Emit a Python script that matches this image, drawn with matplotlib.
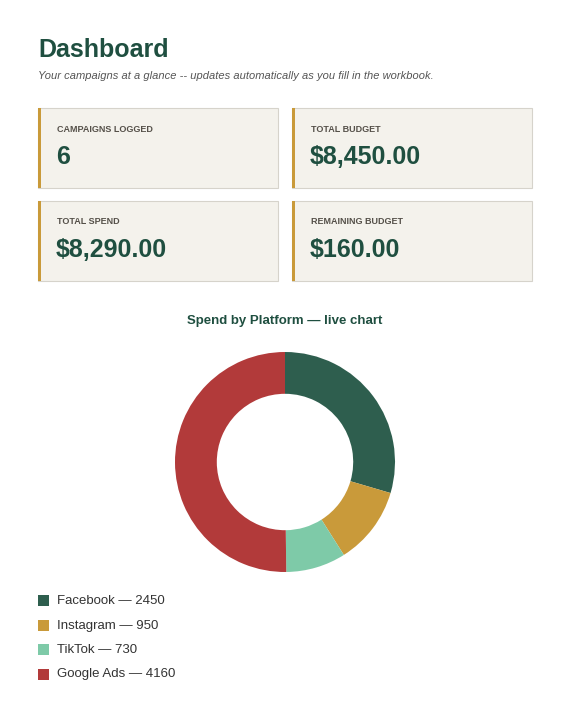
import matplotlib.pyplot as plt
from matplotlib.patches import Rectangle

plt.rcParams['font.family'] = ['Liberation Sans', 'DejaVu Sans']

# --- data ---
card_labels = ["CAMPAIGNS LOGGED", "TOTAL BUDGET", "TOTAL SPEND", "REMAINING BUDGET"]
card_values = ["6", "$8,450.00", "$8,290.00", "$160.00"]
platforms = ["Facebook", "Instagram", "TikTok", "Google Ads"]
spend = [2450, 950, 730, 4160]
colors = ["#2e5e4e", "#c99a3a", "#7ecaa8", "#b23a3a"]

GREEN = "#1f4f40"
W, H = 570, 728

fig = plt.figure(figsize=(W / 100, H / 100), dpi=100)
fig.patch.set_facecolor("white")
ax = fig.add_axes([0, 0, 1, 1])
ax.set_xlim(0, W)
ax.set_ylim(H, 0)
ax.axis("off")

ax.text(38, 50, "Dashboard", fontsize=18, fontweight="bold", color=GREEN, va="center")
ax.text(38, 76, "Your campaigns at a glance -- updates automatically as you fill in the workbook.",
        fontsize=8, style="italic", color="#555555", va="center")

# --- KPI cards ---
for i, (lab, val) in enumerate(zip(card_labels, card_values)):
    x0 = 38 + (i % 2) * 254
    y0 = 108 + (i // 2) * 93
    ax.add_patch(Rectangle((x0, y0), 240, 80, facecolor="#f4f2ec", edgecolor="#d6d3cb", lw=0.8))
    ax.add_patch(Rectangle((x0, y0), 3, 80, facecolor="#c99a3a", edgecolor="none"))
    ax.text(x0 + 19, y0 + 21, lab, fontsize=6.5, fontweight="bold", color="#555049", va="center")
    ax.text(x0 + 18, y0 + 49, val, fontsize=18, fontweight="bold", color=GREEN, va="center")

ax.text(285, 321, "Spend by Platform \u2014 live chart", fontsize=9.5, fontweight="bold",
        color=GREEN, ha="center", va="center")

# --- donut ---
pax = fig.add_axes([(285 - 110) / W, 1 - (462 + 110) / H, 220 / W, 220 / H])
pax.pie(spend, colors=colors, startangle=90, counterclock=False,
        wedgeprops=dict(width=0.38, edgecolor="none"))
pax.set_xlim(-1, 1)
pax.set_ylim(-1, 1)
pax.set_aspect("equal")

# --- legend ---
for i, (p, v, c) in enumerate(zip(platforms, spend, colors)):
    y = 601 + i * 24.5
    ax.add_patch(Rectangle((38, y - 6), 11, 11, facecolor=c, edgecolor="none"))
    ax.text(57, y, f"{p} \u2014 {v}", fontsize=9.5, color="#333333", va="center")

fig.savefig("out.png", dpi=100, facecolor="white")
